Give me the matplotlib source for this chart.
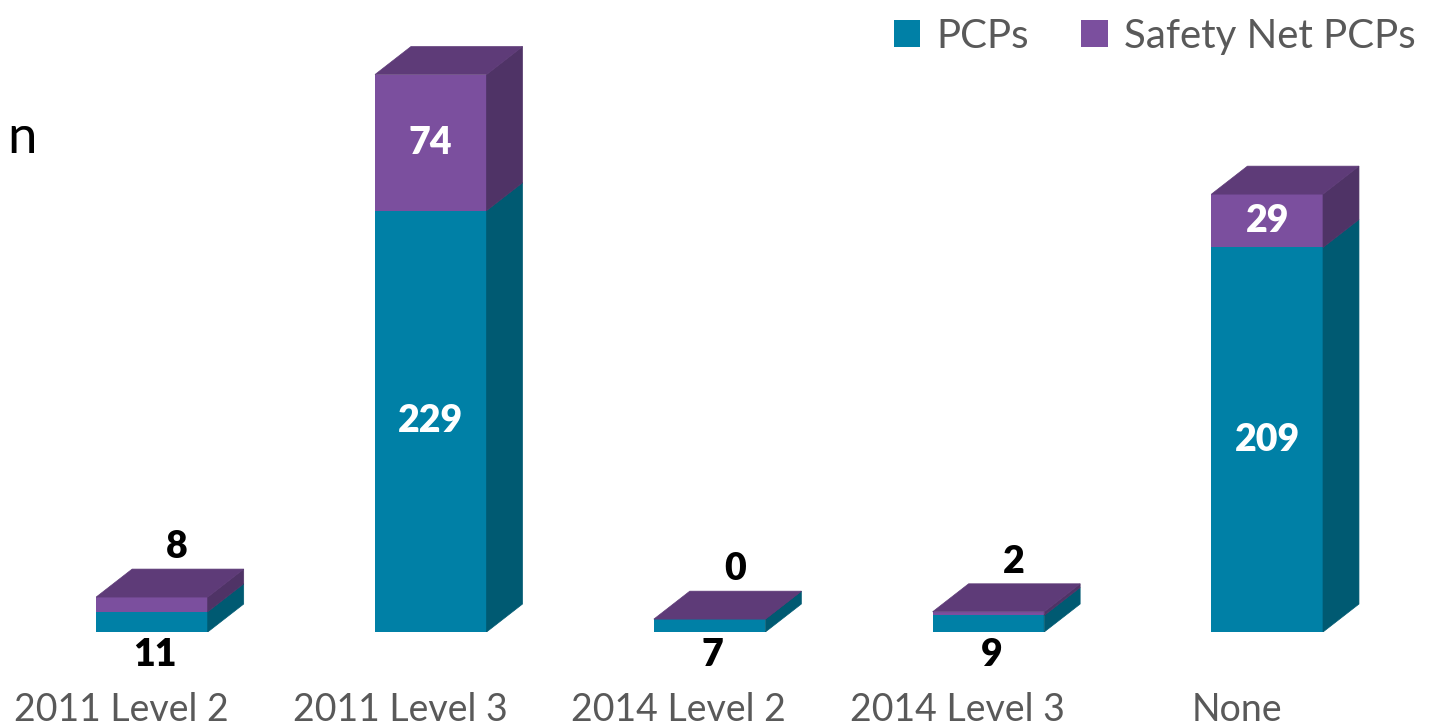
import matplotlib
matplotlib.use('Agg')
import matplotlib.pyplot as plt
from matplotlib.patches import Polygon, Patch

plt.rcParams['font.family'] = ['Lato', 'DejaVu Sans']

# data
categories = ['2011 Level 2', '2011 Level 3', '2014 Level 2', '2014 Level 3', 'None']
pcps = [11, 229, 7, 9, 209]
safety_net = [8, 74, 0, 2, 29]

# colours: front, side, top
blue = ('#0080a6', '#005a72', '#006c8c')
purple = ('#7b4f9e', '#4f3366', '#5e3b78')
label_grey = '#595959'

width = 0.40
dx, dy = 0.129, 15.2   # depth of the fake 3d box, data units

fig = plt.figure(figsize=(14.56, 7.27), dpi=100)
ax = fig.add_axes([0, 95 / 727, 1, 632 / 727])
ax.set_xlim(-0.545, 4.677)
ax.set_ylim(0, 343.5)
ax.axis('off')

x = list(range(len(categories)))


def box(xc, bottom, top, cols, with_top):
    # side face
    ax.add_patch(Polygon([(xc + width / 2, bottom), (xc + width / 2 + dx, bottom + dy),
                          (xc + width / 2 + dx, top + dy), (xc + width / 2, top)],
                         closed=True, facecolor=cols[1], edgecolor=cols[1], lw=0.5))
    if with_top:
        ax.add_patch(Polygon([(xc - width / 2, top), (xc - width / 2 + dx, top + dy),
                              (xc + width / 2 + dx, top + dy), (xc + width / 2, top)],
                             closed=True, facecolor=cols[2], edgecolor=cols[2], lw=0.5))


ax.bar(x, pcps, width, color=blue[0], linewidth=0)
ax.bar(x, safety_net, width, bottom=pcps, color=purple[0], linewidth=0)

for i in x:
    b, s = pcps[i], safety_net[i]
    box(i, 0, b, blue, False)
    box(i, b, b + s, purple, True)

    if b > 50:
        ax.text(i, b / 2, str(b), ha='center', va='center', color='white',
                fontsize=27, fontweight='heavy')
        ax.text(i, b + s / 2, str(s), ha='center', va='center', color='white',
                fontsize=27, fontweight='heavy')
    else:
        ax.text(i + 0.09, b + s + dy + 12, str(s), ha='center', va='center',
                color='black', fontsize=27, fontweight='heavy')
        ax.text(i + 0.01, -12.5, str(b), ha='center', va='center', color='black',
                fontsize=27, fontweight='heavy', clip_on=False)

    ax.text(i - 0.11, -42.5, categories[i], ha='center', va='center',
            color=label_grey, fontsize=27, clip_on=False)

fig.text(0.005, 0.81, 'n', fontsize=38, color='black', ha='left', va='center')

handles = [Patch(facecolor=blue[0], label='PCPs'),
           Patch(facecolor=purple[0], label='Safety Net PCPs')]
leg = fig.legend(handles=handles, loc='upper right', bbox_to_anchor=(0.997, 1.025),
                 ncol=2, frameon=False, fontsize=29, handlelength=0.65,
                 handleheight=0.65, handletextpad=0.4, columnspacing=1.3)
for t in leg.get_texts():
    t.set_color(label_grey)

fig.savefig('out.png', dpi=100)
